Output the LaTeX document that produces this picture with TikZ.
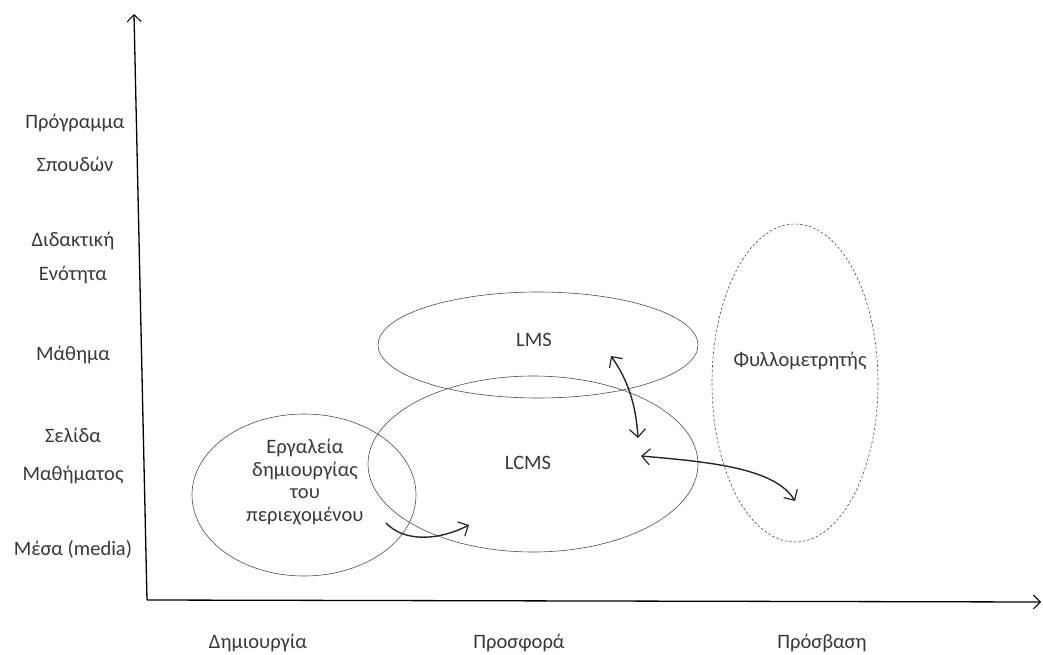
\documentclass[tikz,border=0pt]{standalone}
\usepackage{fontspec}
\setmainfont{Carlito}
\usetikzlibrary{arrows.meta}
\begin{document}
\begin{tikzpicture}[x=1pt,y=-1pt,
  lbl/.style={font=\fontsize{20.5}{24}\selectfont, text=black!78, inner sep=0pt, align=center},
  ell/.style={draw=black!70, line width=0.6pt},
  axis/.style={draw=black, line width=1.3pt, -{Straight Barb[length=7pt,width=14pt,line width=1pt]}},
  curv/.style={draw=black!85, line width=1.4pt},
  tip/.tip={Straight Barb[length=8pt,width=16pt,line width=1.2pt]}
]
\useasboundingbox (0,0) rectangle (1043,655);
% axes
\coordinate (O) at (147,600);
\coordinate (Ytop) at (134,14);
\coordinate (Xend) at (1041,602);
\draw[axis] (O) -- (Ytop);
\draw[axis] (O) -- (Xend);
% ellipses
\draw[ell] (304,495) ellipse [x radius=112, y radius=81];
\draw[ell] (538,345) ellipse [x radius=160, y radius=53];
\draw[ell] (533,464) ellipse [x radius=165, y radius=88];
\draw[ell, dash pattern=on 2.5pt off 2pt] (795,383) ellipse [x radius=83, y radius=159];
% labels inside
\node[lbl] (lms) at (534,340) {LMS};
\node[lbl] (lcms) at (528,463) {LCMS};
\node[lbl] (fyl) at (800,361) {Φυλλομετρητής};
\node[lbl, font=\fontsize{20.5}{22.5}\selectfont] (tl) at (305,482) {Εργαλεία\\δημιουργίας\\του\\περιεχομένου};
% y labels
\node[lbl] (y1a) at (75,123) {Πρόγραμμα};
\node[lbl] (y1b) at (75,164) {Σπουδών};
\node[lbl] (y2a) at (73,241) {Διδακτική};
\node[lbl] (y2b) at (73,275) {Ενότητα};
\node[lbl] (y3) at (73,355) {Μάθημα};
\node[lbl] (y4a) at (73,435) {Σελίδα};
\node[lbl] (y4b) at (73,475) {Μαθήματος};
\node[lbl] (y5) at (73,549) {Μέσα (media)};
% x labels
\node[lbl] (x1) at (258,643) {Δημιουργία};
\node[lbl] (x2) at (519,643) {Προσφορά};
\node[lbl] (x3) at (822,643) {Πρόσβαση};
% curved arrows
\coordinate (a1s) at (611,356);
\coordinate (a1e) at (638,438);
\draw[curv, {tip}-{tip}] (a1s) .. controls (628,380) and (636,405) .. (a1e);
\coordinate (a2s) at (641,456);
\coordinate (a2e) at (795,501);
\draw[curv, {tip}-{tip}] (a2s) .. controls (710,462) and (775,468) .. (a2e);
\coordinate (a3s) at (386,523);
\coordinate (a3e) at (469,525);
\draw[curv, -{tip}] (a3s) .. controls (405,543) and (440,540) .. (a3e);
\end{tikzpicture}
\end{document}
